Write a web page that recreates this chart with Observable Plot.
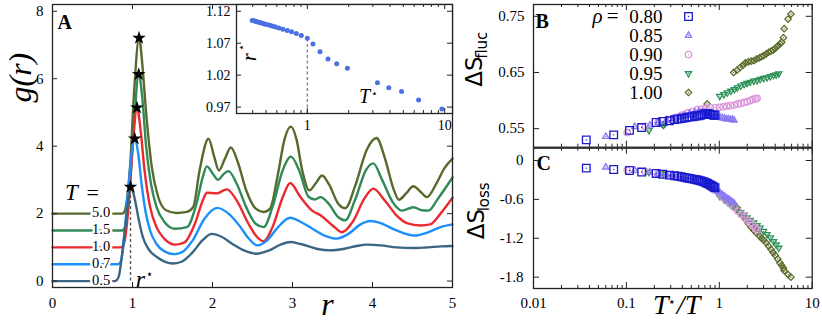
<!DOCTYPE html>
<html>
<head>
<meta charset="utf-8">
<script src="https://cdn.jsdelivr.net/npm/d3@7"></script>
<script src="https://cdn.jsdelivr.net/npm/@observablehq/plot@0.6"></script>
<style>
  html, body { margin: 0; padding: 0; background: #fff; }
  #wrap { position: relative; width: 822px; height: 329px; overflow: hidden; background: #fff; }
  #wrap > svg { position: absolute; left: 0; top: 0; font-family: 'Liberation Serif', serif !important; background: transparent !important; overflow: visible !important; }
  #wrap > svg.f15 { font-size: 15px !important; }
  #wrap > svg.f14 { font-size: 14px !important; }
</style>
</head>
<body>
<div id="wrap"></div>
<script>
// ---------------- Panel A: g(r) curves (offset by 0.5 each) ----------------
const temps = ["0.5", "0.7", "1.0", "1.5", "5.0"];
const offsets = [0, 0.5, 1.0, 1.5, 2.0];
const r05 = [0, 0.78, 0.8, 0.83, 0.86, 0.89, 0.92, 0.95, 0.975, 1.0, 1.04, 1.08, 1.13, 1.2, 1.3, 1.4, 1.51, 1.62, 1.75, 1.88, 1.99, 2.1, 2.25, 2.4, 2.55, 2.7, 2.85, 2.97, 3.1, 3.3, 3.47, 3.65, 3.8, 3.93, 4.1, 4.3, 4.51, 4.7, 4.85, 5.0];
const g05 = [0, 0, 0.02, 0.15, 0.6, 1.2, 1.8, 2.45, 2.79, 2.7, 2.3, 1.8, 1.3, 0.95, 0.72, 0.58, 0.52, 0.58, 0.85, 1.22, 1.40, 1.33, 1.1, 0.9, 0.81, 0.9, 1.08, 1.16, 1.10, 0.96, 0.91, 0.96, 1.04, 1.08, 1.06, 1.0, 0.98, 1.0, 1.03, 1.04];
const r07 = [0, 0.82, 0.85, 0.88, 0.91, 0.95, 0.99, 1.028, 1.07, 1.11, 1.16, 1.22, 1.3, 1.4, 1.52, 1.62, 1.75, 1.9, 2.06, 2.2, 2.35, 2.45, 2.56, 2.68, 2.82, 2.97, 3.1, 3.25, 3.4, 3.55, 3.7, 3.85, 3.97, 4.1, 4.3, 4.52, 4.7, 4.85, 5.0];
const g07 = [0.5, 0.5, 0.56, 0.95, 1.7, 2.8, 3.8, 4.22, 3.8, 2.95, 2.1, 1.5, 1.1, 0.88, 0.8, 0.86, 1.2, 1.85, 2.17, 2.0, 1.6, 1.27, 1.06, 1.2, 1.6, 1.88, 1.76, 1.55, 1.35, 1.26, 1.4, 1.68, 1.78, 1.72, 1.5, 1.35, 1.45, 1.6, 1.68];
const r10 = [0, 0.85, 0.88, 0.91, 0.95, 1.0, 1.056, 1.1, 1.15, 1.22, 1.3, 1.4, 1.53, 1.65, 1.78, 1.88, 1.93, 2.05, 2.18, 2.3, 2.45, 2.56, 2.64, 2.75, 2.88, 2.97, 3.1, 3.25, 3.35, 3.5, 3.62, 3.75, 3.9, 4.01, 4.15, 4.3, 4.43, 4.6, 4.72, 4.85, 5.0];
const g10 = [1, 1, 1.04, 1.3, 2.2, 3.9, 5.14, 4.5, 3.3, 2.2, 1.6, 1.25, 1.08, 1.15, 1.7, 2.4, 2.62, 2.6, 2.72, 2.4, 1.7, 1.3, 1.18, 1.6, 2.5, 2.91, 2.49, 2.08, 1.95, 1.65, 1.45, 1.75, 2.45, 2.74, 2.4, 1.95, 1.72, 1.65, 1.68, 2.0, 2.47];
const r15 = [0, 0.87, 0.9, 0.93, 0.97, 1.02, 1.078, 1.12, 1.17, 1.23, 1.3, 1.4, 1.53, 1.68, 1.8, 1.88, 1.93, 2.0, 2.07, 2.13, 2.2, 2.3, 2.42, 2.54, 2.64, 2.75, 2.88, 2.98, 3.08, 3.2, 3.28, 3.35, 3.45, 3.57, 3.66, 3.78, 3.92, 4.01, 4.12, 4.25, 4.37, 4.51, 4.62, 4.7, 4.82, 5.0];
const g15 = [1.5, 1.5, 1.56, 1.9, 2.9, 4.7, 6.13, 5.5, 4.0, 2.9, 2.2, 1.75, 1.55, 1.6, 2.3, 3.1, 3.40, 3.2, 3.0, 3.15, 3.26, 2.9, 2.2, 1.7, 1.6, 2.2, 3.3, 3.69, 3.3, 2.5, 2.42, 2.49, 2.3, 1.9, 1.8, 2.4, 3.3, 3.49, 3.0, 2.35, 2.09, 2.19, 2.1, 2.09, 2.45, 3.07];
const r50 = [0, 0.87, 0.9, 0.93, 0.97, 1.02, 1.082, 1.12, 1.17, 1.24, 1.32, 1.42, 1.55, 1.68, 1.76, 1.84, 1.95, 2.02, 2.08, 2.15, 2.23, 2.32, 2.42, 2.54, 2.64, 2.72, 2.82, 2.9, 2.98, 3.05, 3.12, 3.21, 3.29, 3.37, 3.46, 3.57, 3.66, 3.78, 3.93, 4.05, 4.16, 4.26, 4.33, 4.42, 4.51, 4.6, 4.68, 4.8, 4.9, 5.0];
const g50 = [2, 2, 2.06, 2.4, 3.4, 5.6, 7.21, 6.5, 5.0, 3.4, 2.5, 2.1, 2.02, 2.05, 2.2, 3.3, 4.22, 3.7, 3.28, 3.6, 3.96, 3.5, 2.7, 2.15, 2.05, 2.15, 3.2, 4.2, 4.58, 4.2, 3.3, 2.69, 2.9, 3.13, 2.85, 2.3, 2.16, 2.8, 3.9, 4.24, 3.6, 2.75, 2.41, 2.6, 2.81, 2.65, 2.49, 2.9, 3.35, 3.63];
const colorsA = ["#3a6683", "#1b8ffd", "#ea2a2f", "#2f8a57", "#566a2c"];
const xTicksA = [0, 1, 2, 3, 4, 5];
const yTicksA = [0, 2, 4, 6, 8];

// ---------------- Inset: r* vs T* ----------------
const insetT = [0.397, 0.41, 0.419, 0.43, 0.443, 0.456, 0.469, 0.482, 0.496, 0.518, 0.540, 0.563, 0.587, 0.621, 0.664, 0.715, 0.768, 0.831, 0.904, 1.0, 1.099, 1.237, 1.414, 1.636, 1.958, 3.24, 3.92, 4.85, 6.46, 9.55];
const insetR = [1.1054, 1.105, 1.1044, 1.1036, 1.1028, 1.102, 1.1012, 1.1005, 1.0997, 1.0987, 1.0976, 1.0966, 1.0955, 1.0939, 1.0918, 1.0897, 1.0877, 1.0850, 1.0819, 1.0777, 1.0689, 1.0564, 1.0454, 1.0380, 1.0307, 1.0082, 1.0004, 0.9946, 0.9811, 0.9670];
const insetXTicks = [1, 10];
const insetXMinor = [0.4, 0.5, 0.6, 0.7, 0.8, 0.9, 2, 3, 4, 5, 6, 7, 8, 9];
const insetYTicks = [0.97, 1.02, 1.07, 1.12];

// ---------------- Panels B & C: entropy vs T*/T ----------------
const rhoLabels = ["0.80", "0.85", "0.90", "0.95", "1.00"];
const x80 = [0.037, 0.073, 0.108, 0.146, 0.209, 0.247, 0.291, 0.33, 0.36, 0.39, 0.42, 0.45, 0.48, 0.51, 0.54, 0.57, 0.60, 0.63, 0.66, 0.69, 0.72, 0.75, 0.78, 0.81, 0.84, 0.87, 0.90];
const fluc80 = [0.530, 0.539, 0.547, 0.552, 0.561, 0.563, 0.564, 0.566, 0.567, 0.568, 0.569, 0.570, 0.571, 0.571, 0.572, 0.573, 0.573, 0.574, 0.575, 0.576, 0.576, 0.577, 0.576, 0.575, 0.575, 0.574, 0.574];
const loss80 = [-0.118, -0.139, -0.154, -0.178, -0.20, -0.212, -0.225, -0.235, -0.243, -0.25, -0.26, -0.27, -0.277, -0.284, -0.291, -0.298, -0.305, -0.313, -0.322, -0.332, -0.343, -0.355, -0.368, -0.381, -0.394, -0.408, -0.42];
const x85 = [0.060, 0.123, 0.179, 0.22, 0.27, 0.32, 0.37, 0.42, 0.48, 0.54, 0.60, 0.66, 0.72, 0.78, 0.84, 0.90, 0.96, 1.02, 1.08, 1.14, 1.20, 1.26, 1.32, 1.38, 1.44];
const fluc85 = [0.536, 0.5535, 0.556, 0.561, 0.565, 0.568, 0.571, 0.574, 0.577, 0.579, 0.580, 0.580, 0.579, 0.577, 0.575, 0.573, 0.571, 0.570, 0.569, 0.568, 0.567, 0.567, 0.566, 0.566, 0.565];
const loss85 = [-0.103, -0.154, -0.18, -0.20, -0.215, -0.23, -0.245, -0.26, -0.275, -0.29, -0.305, -0.322, -0.34, -0.36, -0.385, -0.41, -0.47, -0.50, -0.53, -0.555, -0.58, -0.60, -0.62, -0.64, -0.66];
const x90 = [0.102, 0.16, 0.22, 0.28, 0.34, 0.40, 0.46, 0.52, 0.58, 0.64, 0.72, 0.80, 0.90, 1.0, 1.1, 1.2, 1.32, 1.45, 1.58, 1.72, 1.86, 2.0, 2.15, 2.3, 2.45, 2.55];
const fluc90 = [0.543, 0.554, 0.561, 0.566, 0.570, 0.574, 0.578, 0.581, 0.584, 0.585, 0.586, 0.587, 0.587, 0.588, 0.589, 0.590, 0.591, 0.592, 0.594, 0.595, 0.597, 0.598, 0.600, 0.602, 0.603, 0.604];
const loss90 = [-0.15, -0.17, -0.20, -0.22, -0.235, -0.25, -0.27, -0.285, -0.30, -0.315, -0.34, -0.375, -0.46, -0.52, -0.57, -0.62, -0.67, -0.72, -0.78, -0.83, -0.87, -0.92, -0.96, -1.0, -1.04, -1.07];
const x95 = [0.175, 0.25, 0.35, 0.5, 0.7, 1.01, 1.12, 1.22, 1.33, 1.45, 1.56, 1.7, 1.85, 1.99, 2.15, 2.35, 2.55, 2.75, 3.0, 3.27, 3.55, 3.85, 4.1, 4.37];
const fluc95 = [0.547, 0.557, 0.566, 0.574, 0.579, 0.608, 0.611, 0.614, 0.617, 0.620, 0.623, 0.626, 0.629, 0.631, 0.633, 0.635, 0.636, 0.638, 0.640, 0.641, 0.643, 0.645, 0.646, 0.648];
const loss95 = [-0.18, -0.21, -0.24, -0.28, -0.33, -0.55, -0.60, -0.64, -0.68, -0.72, -0.76, -0.80, -0.84, -0.88, -0.92, -0.96, -1.0, -1.04, -1.09, -1.14, -1.19, -1.25, -1.30, -1.35];
const x100 = [0.25, 0.74, 1.43, 1.55, 1.68, 1.8, 1.91, 2.05, 2.2, 2.36, 2.52, 2.7, 2.85, 3.0, 3.2, 3.4, 3.6, 3.8, 4.0, 4.25, 4.5, 4.7, 4.9, 5.0, 5.5, 5.9];
const fluc100 = [0.556, 0.594, 0.650, 0.654, 0.659, 0.663, 0.667, 0.669, 0.670, 0.671, 0.674, 0.676, 0.678, 0.680, 0.683, 0.686, 0.688, 0.690, 0.693, 0.697, 0.701, 0.704, 0.712, 0.728, 0.745, 0.754];
const loss100 = [-0.21, -0.34, -0.67, -0.73, -0.80, -0.86, -0.91, -0.97, -1.03, -1.08, -1.12, -1.16, -1.20, -1.23, -1.27, -1.32, -1.37, -1.42, -1.46, -1.52, -1.58, -1.62, -1.66, -1.70, -1.76, -1.80];
const logMajor = [0.01, 0.1, 1, 10];
const logMinor = [0.02, 0.03, 0.04, 0.05, 0.06, 0.07, 0.08, 0.09, 0.2, 0.3, 0.4, 0.5, 0.6, 0.7, 0.8, 0.9, 2, 3, 4, 5, 6, 7, 8, 9];
const yTicksB = [0.55, 0.65, 0.75];
const yTicksC = [0, -0.6, -1.2, -1.8];

// ---------------- helpers ----------------
const W = 822, H = 329;
const SANS = "DejaVu Sans";
const wrap = document.getElementById("wrap");
function add(opts, cls = "f15") {
  const svg = Plot.plot({width: W, height: H, ...opts});
  svg.classList.add(cls);
  wrap.appendChild(svg);
}
function box(l, r, t, b) {
  return {marginLeft: l, marginRight: W - r, marginTop: t, marginBottom: H - b};
}
function frameTicks({xMajor = [], xMinor = [], yMajor = [], fw, fh, maj = 5, min = 3}) {
  const o = {stroke: "#222", strokeWidth: 1};
  return [
    Plot.tickX(xMajor, {x: d => d, insetTop: fh - maj, ...o}),
    Plot.tickX(xMajor, {x: d => d, insetBottom: fh - maj, ...o}),
    Plot.tickX(xMinor, {x: d => d, insetTop: fh - min, ...o}),
    Plot.tickX(xMinor, {x: d => d, insetBottom: fh - min, ...o}),
    Plot.tickY(yMajor, {y: d => d, insetRight: fw - maj, ...o}),
    Plot.tickY(yMajor, {y: d => d, insetLeft: fw - maj, ...o})
  ];
}
const circR = s => Math.sqrt(s / Math.PI);
const SYM = {
  square: {draw(c, s) { const r = circR(s); c.moveTo(-r, -r); c.lineTo(r, -r); c.lineTo(r, r); c.lineTo(-r, r); c.closePath(); }},
  triUp: {draw(c, s) { const r = circR(s); c.moveTo(0, -r); c.lineTo(0.866 * r, 0.5 * r); c.lineTo(-0.866 * r, 0.5 * r); c.closePath(); }},
  triDown: {draw(c, s) { const r = circR(s); c.moveTo(0, r); c.lineTo(0.866 * r, -0.5 * r); c.lineTo(-0.866 * r, -0.5 * r); c.closePath(); }},
  circle: {draw(c, s) { const r = circR(s); c.moveTo(r, 0); c.arc(0, 0, r, 0, 2 * Math.PI); }},
  diamond: {draw(c, s) { const r = circR(s); c.moveTo(0, -r); c.lineTo(r, 0); c.lineTo(0, r); c.lineTo(-r, 0); c.closePath(); }}
};
const fmtInt = d => String(d);

// ---------------- Panel A ----------------
const A = {l: 52, r: 452, t: 4, b: 287};
const curves = [
  {T: temps[0], off: offsets[0], r: r05, g: g05, color: colorsA[0]},
  {T: temps[1], off: offsets[1], r: r07, g: g07, color: colorsA[1]},
  {T: temps[2], off: offsets[2], r: r10, g: g10, color: colorsA[2]},
  {T: temps[3], off: offsets[3], r: r15, g: g15, color: colorsA[3]},
  {T: temps[4], off: offsets[4], r: r50, g: g50, color: colorsA[4]}
];
const peaks = curves.map(c => { const i = d3.maxIndex(c.g); return {T: c.T, r: c.r[i], g: c.g[i]}; });

add({
  ...box(A.l, A.r, A.t, A.b),
  x: {domain: [0, 5], ticks: xTicksA, tickFormat: fmtInt, tickSize: 0, tickPadding: 10, label: null},
  y: {domain: [-0.19, 8.2], ticks: yTicksA, tickFormat: fmtInt, tickSize: 0, tickPadding: 9, label: null},
  marks: [
    ...curves.slice().reverse().map(c =>
      Plot.line(c.r.map((r, i) => ({r, g: c.g[i]})), {x: "r", y: "g", stroke: c.color, strokeWidth: 2.4, curve: "monotone-x"})),
    Plot.ruleX([peaks[0]], {x: "r", y1: 0, y2: "g", stroke: "#555", strokeWidth: 1.4, strokeDasharray: "3,2.5"}),
    Plot.dot(peaks, {x: "r", y: "g", symbol: "star", fill: "#000", r: 4.3}),
    Plot.text(curves, {frameAnchor: "left", dx: 39.5, y: "off", dy: -1, text: "T", fontSize: 14.5,
      fill: "#000", stroke: "white", strokeWidth: 5, paintOrder: "stroke"}),
    Plot.text(["T"], {frameAnchor: "left", dx: 12.5, dy: 47, fontSize: 23, fontStyle: "italic"}),
    Plot.text(["="], {frameAnchor: "left", dx: 34, dy: 47, fontSize: 22}),
    Plot.text([peaks[0]], {x: "r", y: () => 0, dx: 10, dy: 6, text: () => "r", lineAnchor: "bottom", fontSize: 24, fontStyle: "italic"}),
    Plot.text([peaks[0]], {x: "r", y: () => 0, dx: 19, dy: -7, text: () => "⋆", fontSize: 12, fontFamily: SANS}),
    Plot.text(["g(r)"], {frameAnchor: "left", dx: -32, dy: -43.5, rotate: -90, fontSize: 32, fontStyle: "italic"}),
    Plot.text(["r"], {frameAnchor: "bottom", dx: 75, dy: 27, fontSize: 32, fontStyle: "italic"}),
    Plot.text(["A"], {frameAnchor: "top-left", dx: 5, dy: 10, lineAnchor: "top", textAnchor: "start", fontSize: 20, fontWeight: "bold"}),
    ...frameTicks({xMajor: xTicksA, yMajor: yTicksA, fw: A.r - A.l, fh: A.b - A.t, maj: 5}),
    Plot.frame({stroke: "#222", strokeWidth: 1.3})
  ]
});

// ---------------- Inset ----------------
const I = {l: 236, r: 452, t: 4, b: 113};
const insetPts = insetT.map((t, i) => ({t, r: insetR[i]}));
const insetAtOne = insetPts.find(d => d.t === 1);
add({
  ...box(I.l, I.r, I.t, I.b),
  x: {type: "log", domain: [0.305, 11.4], ticks: insetXTicks, tickFormat: fmtInt, tickSize: 0, tickPadding: 7, label: null},
  y: {domain: [0.96, 1.1305], ticks: insetYTicks, tickFormat: d => d.toFixed(2), tickSize: 0, tickPadding: 6, label: null},
  marks: [
    Plot.frame({fill: "white"}),
    Plot.ruleX([insetAtOne], {x: "t", y1: () => 0.96, y2: "r", stroke: "#888", strokeWidth: 1.4, strokeDasharray: "3,2.5"}),
    Plot.dot(insetPts, {x: "t", y: "r", r: 2.5, fill: "#4a70e2"}),
    Plot.text(["r"], {frameAnchor: "left", dx: 13, dy: 2, rotate: -90, fontSize: 20, fontStyle: "italic"}),
    Plot.text(["⋆"], {frameAnchor: "left", dx: 5, dy: -8, rotate: -90, fontSize: 11, fontFamily: SANS}),
    Plot.text(["T"], {frameAnchor: "bottom", dx: 20, dy: -11, fontSize: 20, fontStyle: "italic"}),
    Plot.text(["⋆"], {frameAnchor: "bottom", dx: 30, dy: -17, fontSize: 11, fontFamily: SANS}),
    ...frameTicks({xMajor: insetXTicks, xMinor: insetXMinor, yMajor: insetYTicks, fw: I.r - I.l, fh: I.b - I.t, maj: 5, min: 3}),
    Plot.frame({stroke: "#222", strokeWidth: 1.3})
  ]
}, "f14");

// ---------------- Panels B & C ----------------
const series = [
  {rho: rhoLabels[0], x: x80, fluc: fluc80, loss: loss80, color: "#1a1ad0", sym: SYM.square, r: 3.8},
  {rho: rhoLabels[1], x: x85, fluc: fluc85, loss: loss85, color: "#8878f2", sym: SYM.triUp, r: 3.6},
  {rho: rhoLabels[2], x: x90, fluc: fluc90, loss: loss90, color: "#dc98dc", sym: SYM.circle, r: 3.2},
  {rho: rhoLabels[3], x: x95, fluc: fluc95, loss: loss95, color: "#2e9157", sym: SYM.triDown, r: 3.5},
  {rho: rhoLabels[4], x: x100, fluc: fluc100, loss: loss100, color: "#5b6e2a", sym: SYM.diamond, r: 3.2}
];
function scatter(key) {
  return series.slice().reverse().flatMap(s => {
    const pts = s.x.map((x, i) => ({x, y: s[key][i]}));
    return [
      Plot.dot(pts, {x: "x", y: "y", symbol: s.sym, r: s.r, stroke: s.color, fill: "none", strokeWidth: 1.3}),
      Plot.dot(pts, {x: "x", y: "y", r: 0.7, fill: s.color})
    ];
  });
}
const B = {l: 533, r: 811.7, t: 4, b: 146.7};
add({
  ...box(B.l, B.r, B.t, B.b),
  x: {type: "log", domain: [0.01, 10], axis: null},
  y: {domain: [0.517, 0.771], ticks: yTicksB, tickFormat: d => d.toFixed(2), tickSize: 0, tickPadding: 9, label: null},
  marks: [
    ...scatter("fluc"),
    Plot.text(["B"], {frameAnchor: "top-left", dx: 2, dy: 9, lineAnchor: "top", textAnchor: "start", fontSize: 20, fontWeight: "bold"}),
    Plot.text(["ΔS"], {frameAnchor: "left", dx: -59, dy: 11, rotate: -90, fontSize: 23, fontFamily: SANS}),
    Plot.text(["fluc"], {frameAnchor: "left", dx: -51, dy: -17, rotate: -90, fontSize: 15, fontFamily: SANS}),
    ...frameTicks({xMajor: logMajor, xMinor: logMinor, yMajor: yTicksB, fw: B.r - B.l, fh: B.b - B.t, maj: 6, min: 3}),
    Plot.frame({stroke: "#222", strokeWidth: 1.3})
  ]
});

const C = {l: 533, r: 811.7, t: 147.7, b: 288};
add({
  ...box(C.l, C.r, C.t, C.b),
  x: {type: "log", domain: [0.01, 10], ticks: logMajor, tickFormat: fmtInt, tickSize: 0, tickPadding: 9, label: null},
  y: {domain: [-1.975, 0.19], ticks: yTicksC, tickFormat: d => d === 0 ? "0" : d.toFixed(1), tickSize: 0, tickPadding: 10, label: null},
  marks: [
    ...scatter("loss"),
    Plot.text(["C"], {frameAnchor: "top-left", dx: 3, dy: 8, lineAnchor: "top", textAnchor: "start", fontSize: 20, fontWeight: "bold"}),
    Plot.text(["ΔS"], {frameAnchor: "left", dx: -57, dy: 21, rotate: -90, fontSize: 23, fontFamily: SANS}),
    Plot.text(["loss"], {frameAnchor: "left", dx: -49, dy: -7, rotate: -90, fontSize: 15, fontFamily: SANS}),
    Plot.text(["T"], {frameAnchor: "bottom", dx: -12, dy: 25, fontSize: 28, fontStyle: "italic"}),
    Plot.text(["⋆"], {frameAnchor: "bottom", dx: -1, dy: 17, fontSize: 13, fontFamily: SANS}),
    Plot.text(["/T"], {frameAnchor: "bottom", dx: 4, dy: 25, textAnchor: "start", fontSize: 28, fontStyle: "italic"}),
    ...frameTicks({xMajor: logMajor, xMinor: logMinor, yMajor: yTicksC, fw: C.r - C.l, fh: C.b - C.t, maj: 6, min: 3}),
    Plot.frame({stroke: "#222", strokeWidth: 1.3})
  ]
});

// ---------------- Legend for B ----------------
add({
  ...box(590, 688, 15, 92.7),
  x: {axis: null},
  y: {type: "point", domain: rhoLabels, padding: 0, axis: null},
  marks: [
    Plot.text(rhoLabels, {y: d => d, frameAnchor: "right", dx: -26, textAnchor: "end", fontSize: 19}),
    Plot.text(["ρ"], {y: () => rhoLabels[0], frameAnchor: "right", dx: -86, fontSize: 21, fontStyle: "italic"}),
    Plot.text(["="], {y: () => rhoLabels[0], frameAnchor: "right", dx: -70, fontSize: 21}),
    ...series.flatMap(s => [
      Plot.dot([s.rho], {y: d => d, frameAnchor: "right", symbol: s.sym, r: s.r, stroke: s.color, fill: "none", strokeWidth: 1.3}),
      Plot.dot([s.rho], {y: d => d, frameAnchor: "right", r: 0.7, fill: s.color})
    ])
  ]
});
</script>
</body>
</html>
